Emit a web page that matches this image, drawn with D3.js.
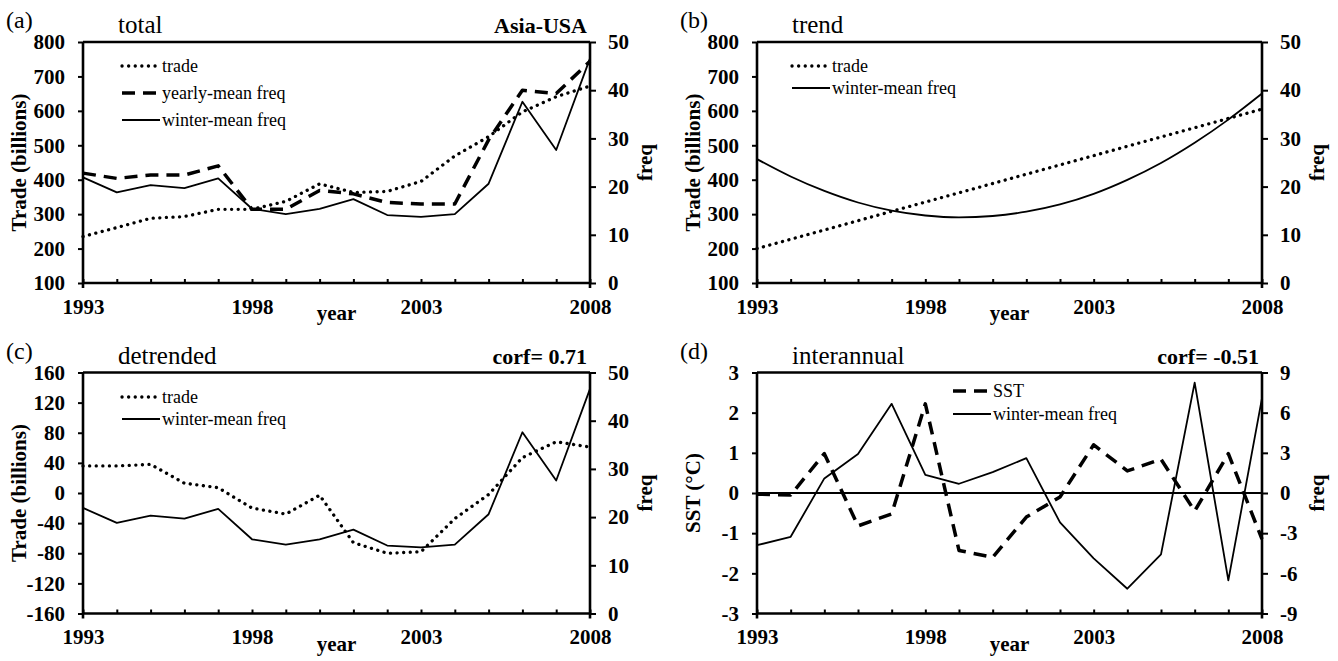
<!DOCTYPE html>
<html lang="en">
  <head>
    <meta charset="utf-8">
    <title>Asia-USA trade and freq</title>
    <script src="https://d3js.org/d3.v7.min.js"></script>
    <style>
      body { margin: 0; background: #fff; }
      text { font-family: "Liberation Serif", "Times New Roman", serif; fill: #000; }
      .tick line { stroke: #000; stroke-width: 2; }
    </style>
  </head>
  <body>
    <div id="chart"></div>
    <script>
      // data
      const years = [1993, 1994, 1995, 1996, 1997, 1998, 1999, 2000, 2001, 2002, 2003, 2004, 2005, 2006, 2007, 2008]
      const yearLabels = [1993, 1998, 2003, 2008]

      // (a) total
      const totalTrade = [235, 261, 288, 293, 314, 314, 337, 388, 363, 366, 395, 469, 525, 597, 641, 672]
      const yearlyFreq = [22.8, 21.7, 22.4, 22.4, 24.3, 15.3, 15.3, 19.2, 18.5, 16.7, 16.4, 16.4, 29.7, 40.0, 39.3, 46.0]
      const winterFreq = [21.9, 18.8, 20.3, 19.7, 21.7, 15.4, 14.3, 15.4, 17.4, 14.1, 13.7, 14.3, 20.6, 37.6, 27.6, 46.6]

      // (b) trend
      const trendTrade = [200, 227, 254, 281, 308, 335, 362, 389, 416, 443, 470, 497, 524, 551, 578, 605]
      const trendFreq = [25.7, 22.1, 19.1, 16.7, 15.0, 14.0, 13.6, 13.9, 14.8, 16.3, 18.5, 21.4, 24.9, 29.1, 33.9, 39.3]

      // (c) detrended
      const detrendTrade = [36, 36, 38, 13, 7, -20, -28, -3, -66, -80, -78, -34, -2, 47, 68, 61]
      const detrendFreq = [21.9, 18.8, 20.3, 19.7, 21.7, 15.4, 14.3, 15.4, 17.4, 14.1, 13.7, 14.3, 20.6, 37.6, 27.6, 46.6]

      // (d) interannual
      const sstAnom = [-0.03, -0.05, 0.98, -0.82, -0.52, 2.22, -1.43, -1.6, -0.6, -0.1, 1.2, 0.55, 0.84, -0.45, 0.98, -1.15]
      const interFreq = [-3.9, -3.27, 1.09, 2.92, 6.66, 1.36, 0.69, 1.56, 2.6, -2.2, -4.88, -7.15, -4.58, 8.24, -6.53, 7.08]

      const tradeTicks = [100, 200, 300, 400, 500, 600, 700, 800]
      const freqTicks = [0, 10, 20, 30, 40, 50]
      const detrendTicks = [-160, -120, -80, -40, 0, 40, 80, 120, 160]
      const sstTicks = [-3, -2, -1, 0, 1, 2, 3]
      const interTicks = [-9, -6, -3, 0, 3, 6, 9]

      const estilos = {
        dotted: { width: 3.3, dash: '0.1 6.5', cap: 'round' },
        dashed: { width: 3.5, dash: '13 8', cap: 'butt' },
        solid: { width: 1.8, dash: null, cap: 'butt' }
      }

      const fonte = '"Liberation Serif", "Times New Roman", serif'

      const svg = d3.select('#chart')
        .append('svg')
          .attr('width', 1338)
          .attr('height', 661)

      svg.append('rect').attr('width', 1338).attr('height', 661).attr('fill', '#fff')

      function estiloEixo(sel) {
        sel.attr('font-family', fonte)
          .attr('font-size', 21)
          .attr('font-weight', 'bold')
        sel.select('.domain').remove()
      }

      function panel(p) {
        const g = svg.append('g')

        const x = d3.scaleLinear().domain([1993, 2008]).range([p.x0, p.x1])
        const yL = d3.scaleLinear().domain(d3.extent(p.leftTicks)).range([p.y1, p.y0])
        const yR = d3.scaleLinear().domain(d3.extent(p.rightTicks)).range([p.y1, p.y0])

        // axes
        g.append('g')
          .attr('transform', `translate(0, ${p.y1})`)
          .call(d3.axisBottom(x)
            .tickValues(years)
            .tickSize(-4)
            .tickSizeOuter(0)
            .tickPadding(16)
            .tickFormat(d => yearLabels.includes(d) ? String(d) : ''))
          .call(estiloEixo)

        g.append('g')
          .attr('transform', `translate(${p.x0}, 0)`)
          .call(d3.axisLeft(yL).tickValues(p.leftTicks).tickFormat(d => String(d))
            .tickSize(5).tickSizeOuter(0).tickPadding(13))
          .call(estiloEixo)

        g.append('g')
          .attr('transform', `translate(${p.x1}, 0)`)
          .call(d3.axisRight(yR).tickValues(p.rightTicks).tickFormat(d => String(d))
            .tickSize(6).tickSizeOuter(0).tickPadding(12))
          .call(estiloEixo)

        // zero line
        if (p.zeroLine) {
          g.append('line')
            .attr('x1', p.x0).attr('x2', p.x1)
            .attr('y1', yL(0)).attr('y2', yL(0))
            .attr('stroke', '#000').attr('stroke-width', 2)
        }

        // series
        p.series.forEach(s => {
          const y = s.axis === 'left' ? yL : yR
          const st = estilos[s.style]
          const linha = d3.line()
            .x((d, i) => x(years[i]))
            .y(d => y(d))
            .curve(s.smooth ? d3.curveMonotoneX : d3.curveLinear)
          g.append('path')
            .datum(s.values)
            .attr('d', linha)
            .attr('fill', 'none')
            .attr('stroke', '#000')
            .attr('stroke-width', st.width)
            .attr('stroke-dasharray', st.dash)
            .attr('stroke-linecap', st.cap)
            .attr('stroke-linejoin', 'round')
        })

        // frame
        g.append('line')
          .attr('x1', p.x0).attr('x2', p.x1).attr('y1', p.y0).attr('y2', p.y0)
          .attr('stroke', '#000').attr('stroke-width', 2.6)
        g.append('line')
          .attr('x1', p.x0).attr('x2', p.x1).attr('y1', p.y1).attr('y2', p.y1)
          .attr('stroke', '#000').attr('stroke-width', 2.6)
        ;[p.x0, p.x1].forEach(xx => {
          g.append('line')
            .attr('x1', xx).attr('x2', xx).attr('y1', p.y0).attr('y2', p.y1 + 5)
            .attr('stroke', '#000').attr('stroke-width', 2.6)
        })

        // legend
        p.series.forEach((s, i) => {
          const st = estilos[s.style]
          const ly = p.legend.y + i * p.legend.gap
          g.append('line')
            .attr('x1', p.legend.x).attr('x2', p.legend.x + 38)
            .attr('y1', ly).attr('y2', ly)
            .attr('stroke', '#000')
            .attr('stroke-width', st.width)
            .attr('stroke-dasharray', st.dash)
            .attr('stroke-linecap', st.cap)
          g.append('text')
            .attr('x', p.legend.x + 40).attr('y', ly + 6)
            .attr('font-size', 18)
            .text(s.name)
        })

        // texts
        g.append('text')
          .attr('x', p.x0 - 77).attr('y', p.y0 - 14)
          .attr('font-size', 24)
          .text(p.letter)
        g.append('text')
          .attr('x', p.x0 + 35).attr('y', p.y0 - 9)
          .attr('font-size', 25)
          .text(p.title)
        if (p.corner) {
          g.append('text')
            .attr('x', p.x1 - 3).attr('y', p.y0 - 9)
            .attr('text-anchor', 'end')
            .attr('font-size', 22)
            .attr('font-weight', 'bold')
            .text(p.corner)
        }
        g.append('text')
          .attr('x', (p.x0 + p.x1) / 2).attr('y', p.y1 + 37)
          .attr('text-anchor', 'middle')
          .attr('font-size', 21)
          .attr('font-weight', 'bold')
          .text('year')
        g.append('text')
          .attr('transform', `translate(${p.x0 - 57}, ${(p.y0 + p.y1) / 2}) rotate(-90)`)
          .attr('text-anchor', 'middle')
          .attr('font-size', 21)
          .attr('font-weight', 'bold')
          .text(p.leftTitle)
        g.append('text')
          .attr('transform', `translate(${p.x1 + 62}, ${(p.y0 + p.y1) / 2}) rotate(-90)`)
          .attr('text-anchor', 'middle')
          .attr('font-size', 21)
          .attr('font-weight', 'bold')
          .text('freq')
      }

      panel({
        letter: '(a)', title: 'total', corner: 'Asia-USA',
        x0: 83, x1: 590, y0: 42, y1: 283,
        leftTicks: tradeTicks, rightTicks: freqTicks, leftTitle: 'Trade (billions)',
        legend: { x: 122, y: 66, gap: 27 },
        series: [
          { name: 'trade', values: totalTrade, axis: 'left', style: 'dotted' },
          { name: 'yearly-mean freq', values: yearlyFreq, axis: 'right', style: 'dashed' },
          { name: 'winter-mean freq', values: winterFreq, axis: 'right', style: 'solid' }
        ]
      })

      panel({
        letter: '(b)', title: 'trend',
        x0: 757, x1: 1262, y0: 42, y1: 283,
        leftTicks: tradeTicks, rightTicks: freqTicks, leftTitle: 'Trade (billions)',
        legend: { x: 792, y: 66, gap: 22 },
        series: [
          { name: 'trade', values: trendTrade, axis: 'left', style: 'dotted' },
          { name: 'winter-mean freq', values: trendFreq, axis: 'right', style: 'solid', smooth: true }
        ]
      })

      panel({
        letter: '(c)', title: 'detrended', corner: 'corf= 0.71',
        x0: 83, x1: 590, y0: 372.5, y1: 613.5,
        leftTicks: detrendTicks, rightTicks: freqTicks, leftTitle: 'Trade (billions)',
        legend: { x: 122, y: 397, gap: 22 },
        series: [
          { name: 'trade', values: detrendTrade, axis: 'left', style: 'dotted' },
          { name: 'winter-mean freq', values: detrendFreq, axis: 'right', style: 'solid' }
        ]
      })

      panel({
        letter: '(d)', title: 'interannual', corner: 'corf= -0.51', zeroLine: true,
        x0: 757, x1: 1262, y0: 372.5, y1: 613.5,
        leftTicks: sstTicks, rightTicks: interTicks, leftTitle: 'SST (°C)',
        legend: { x: 953, y: 391, gap: 23 },
        series: [
          { name: 'SST', values: sstAnom, axis: 'left', style: 'dashed' },
          { name: 'winter-mean freq', values: interFreq, axis: 'right', style: 'solid' }
        ]
      })
    </script>
  </body>
</html>
